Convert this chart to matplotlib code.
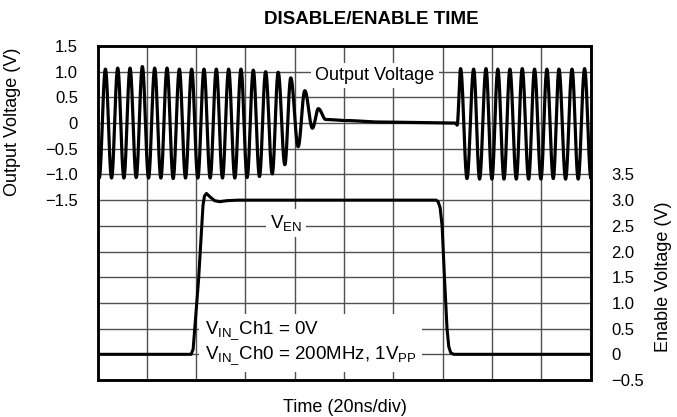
import numpy as np
import matplotlib
matplotlib.use("Agg")
import matplotlib.pyplot as plt

plt.rcParams['font.family'] = ['Liberation Sans', 'DejaVu Sans']
plt.rcParams['mathtext.fontset'] = 'custom'
plt.rcParams['mathtext.rm'] = 'Liberation Sans'
plt.rcParams['mathtext.it'] = 'Liberation Sans:italic'
plt.rcParams['mathtext.bf'] = 'Liberation Sans:bold'

# ---- data (time in ns, 20 ns/div) ----
# Output voltage trace: successive extrema (time, volts)
OUT_T = [-1.8, 0.7, 3.2, 5.7, 8.2, 10.7, 13.2, 15.7, 18.2, 20.7,
         23.2, 25.7, 28.2, 30.7, 33.2, 35.7, 38.2, 40.7, 43.2, 45.7,
         48.2, 50.7, 53.2, 55.7, 58.2, 60.7, 63.2, 65.7, 68.2, 70.9,
         73.3, 76.0, 78.4, 81.4, 84.1, 87.2, 89.6, 92.6, 100.0, 115.0,
         130.0, 145.3, 145.9, 147.3, 149.9, 152.6, 155.0, 157.6, 160.0, 162.4,
         164.9, 167.3, 169.9, 172.3, 174.9, 177.3, 179.9, 182.3, 184.9, 187.2,
         189.9, 192.5, 195.0, 197.6, 200.2]
OUT_V = [1.05, -1.07, 1.05, -1.07, 1.07, -1.07, 1.07, -1.06, 1.10, -1.07,
         1.07, -1.07, 1.07, -1.08, 1.05, -1.07, 1.05, -1.07, 1.05, -1.07,
         1.05, -1.07, 1.05, -1.07, 1.05, -1.06, 1.03, -1.04, 1.00, -0.99,
         0.99, -0.81, 0.88, -0.46, 0.63, -0.10, 0.28, 0.07, 0.05, 0.02,
         0.01, 0.00, -0.04, 1.06, -1.08, 1.05, -1.09, 1.06, -1.09, 1.05,
         -1.09, 1.05, -1.09, 1.06, -1.09, 1.05, -1.09, 1.05, -1.08, 1.05,
         -1.09, 1.05, -1.09, 1.06, -1.08]

# Enable voltage trace: breakpoints (time, volts)
EN_T = [0.0, 38.0, 38.8, 41.0, 42.8, 43.4, 44.2, 45.5, 47.5, 49.6,
        52.5, 56.9, 137.4, 138.2, 139.0, 139.8, 140.8, 141.8, 142.5, 143.3,
        144.5, 200.0]
EN_V = [0.0, 0.0, 0.1, 1.45, 2.9, 3.08, 3.13, 3.07, 2.99, 2.97,
        2.99, 3.0, 3.0, 2.97, 2.85, 2.5, 1.45, 0.5, 0.15, 0.03,
        0.0, 0.0]

LEFT_TICKS = [1.5, 1.0, 0.5, 0, -0.5, -1.0, -1.5]
LEFT_LABELS = ['1.5', '1.0', '0.5', '0', '\u22120.5', '\u22121.0', '\u22121.5']
RIGHT_TICKS = [3.5, 3.0, 2.5, 2.0, 1.5, 1.0, 0.5, 0, -0.5]
RIGHT_LABELS = ['3.5', '3.0', '2.5', '2.0', '1.5', '1.0', '0.5', '0', '\u22120.5']


def scope_curve(ts, vs, n=30):
    xs, ys = [], []
    for i in range(len(ts) - 1):
        s = np.linspace(0, 1, n, endpoint=False)
        xs.append(ts[i] + (ts[i + 1] - ts[i]) * s)
        ys.append(vs[i] + (vs[i + 1] - vs[i]) * (1 - np.cos(np.pi * s)) / 2)
    xs.append([ts[-1]]); ys.append([vs[-1]])
    return np.concatenate(xs), np.concatenate(ys)


fig = plt.figure(figsize=(6.77, 4.17), dpi=100)
ax = fig.add_axes([97.5 / 677, 1 - 380 / 417, 493 / 677, 334 / 417])
ax2 = ax.twinx()

ax.set_xlim(0, 200)
ax.set_ylim(-5.0, 1.5)
ax2.set_ylim(-0.5, 6.0)

grid_y = [round(g, 2) for g in np.arange(-5.0, 1.51, 0.5)]
ax.set_yticks(grid_y)
ax.set_yticklabels([LEFT_LABELS[LEFT_TICKS.index(v)] if v in LEFT_TICKS else '' for v in grid_y])
ax.set_xticks(np.arange(0, 201, 20))
ax.set_xticklabels([])
ax.tick_params(length=0, labelsize=12, pad=14)
ax.grid(True, color='#505050', lw=1.0)
ax.set_axisbelow(True)

ax2.set_yticks(RIGHT_TICKS)
ax2.set_yticklabels(RIGHT_LABELS)
ax2.tick_params(length=0, labelsize=12, pad=15)

for a in (ax, ax2):
    for sp in a.spines.values():
        sp.set_linewidth(1.8)
        sp.set_color('black')

ox, oy = scope_curve(OUT_T, OUT_V)
ax.plot(ox, oy, color='black', lw=2.3, zorder=3, solid_joinstyle='round')
ax2.plot(EN_T, EN_V, color='black', lw=2.2, zorder=3, solid_joinstyle='round')

box = dict(facecolor='white', edgecolor='none', pad=3)
ax2.text(112.5, 0.92, 'Output Voltage', transform=ax.transData, fontsize=13,
         ha='center', va='center', bbox=box, zorder=2)
ax2.text(70.0, 2.55, r'$\mathrm{V}_{\mathrm{EN}}$', fontsize=13.5,
         ha='left', va='center', bbox=box, zorder=2)
ax2.text(43.5, 0.22, '$\\mathrm{V}_{\\mathrm{IN\\_}}$Ch1 = 0V\n'
         '$\\mathrm{V}_{\\mathrm{IN\\_}}$Ch0 = 200MHz, 1$\\mathrm{V}_{\\mathrm{PP}}$',
         fontsize=13.5, ha='left', va='center', linespacing=1.2,
         bbox=dict(facecolor='white', edgecolor='none', pad=4), zorder=2)

fig.text(371 / 677, 1 - 20 / 417, 'DISABLE/ENABLE TIME', fontsize=13.5,
         fontweight='bold', ha='center', va='center')
fig.text(13 / 677, 1 - 122 / 417, 'Output Voltage (V)', fontsize=13,
         rotation=90, ha='center', va='center')
fig.text(663 / 677, 1 - 277 / 417, 'Enable Voltage (V)', fontsize=13,
         rotation=90, ha='center', va='center')
fig.text(345 / 677, 1 - 407 / 417, 'Time (20ns/div)', fontsize=13,
         ha='center', va='center')

fig.savefig('out.png', dpi=100)
